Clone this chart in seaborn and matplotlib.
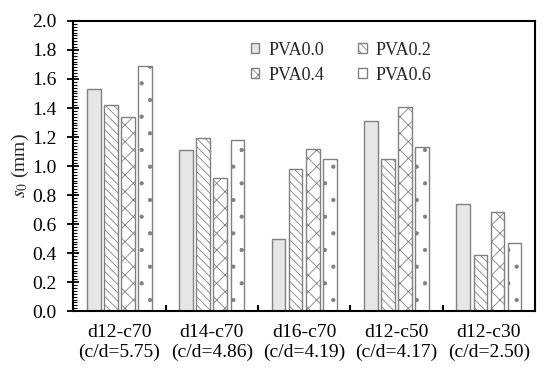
import matplotlib
matplotlib.use("Agg")
import matplotlib.pyplot as plt
import seaborn as sns
import pandas as pd
from matplotlib.ticker import MultipleLocator, FormatStrFormatter

# data
groups = ["d12-c70\n(c/d=5.75)", "d14-c70\n(c/d=4.86)", "d16-c70\n(c/d=4.19)",
          "d12-c50\n(c/d=4.17)", "d12-c30\n(c/d=2.50)"]
series = ["PVA0.0", "PVA0.2", "PVA0.4", "PVA0.6"]
pva00 = [1.53, 1.11, 0.50, 1.31, 0.74]
pva02 = [1.42, 1.19, 0.98, 1.05, 0.39]
pva04 = [1.34, 0.92, 1.12, 1.41, 0.68]
pva06 = [1.69, 1.18, 1.05, 1.13, 0.47]

df = pd.DataFrame({"group": groups * 4,
                   "series": [s for s in series for _ in groups],
                   "s0": pva00 + pva02 + pva04 + pva06})

sns.set_theme(style="white")
plt.rcParams["font.family"] = ["Liberation Serif", "DejaVu Serif"]
plt.rcParams["mathtext.fontset"] = "stix"
plt.rcParams["hatch.linewidth"] = 0.6
plt.rcParams["hatch.color"] = "#555555"

fig = plt.figure(figsize=(5.5, 3.74), dpi=100)
ax = fig.add_axes([0.133, 0.168, 0.84, 0.776])

fills = ["#e6e6e6", "white", "white", "white"]
hatches = ["", "\\\\\\\\", "xx", "."]
sns.barplot(data=df, x="group", y="s0", hue="series", hue_order=series,
            palette=fills, width=0.74, gap=0.2, ax=ax, saturation=1, legend=False)

for cont, h in zip(ax.containers, hatches):
    for bar in cont:
        bar.set_hatch(h)
        bar.set_edgecolor("#808080")
        bar.set_linewidth(1.0)

ax.set_xlim(-0.5, 4.5)
ax.set_ylim(0, 2.0)
ax.yaxis.set_major_locator(MultipleLocator(0.2))
ax.yaxis.set_minor_locator(MultipleLocator(0.02))
ax.yaxis.set_major_formatter(FormatStrFormatter("%.1f"))
ax.tick_params(axis="y", which="major", direction="inout", length=8, width=1.3,
               left=True, labelsize=14, colors="black", pad=8)
ax.tick_params(axis="y", which="minor", direction="in", length=3, width=0.8,
               left=True, colors="black")
ax.set_xticks(range(len(groups)))
ax.set_xticklabels(groups)
ax.xaxis.set_minor_locator(MultipleLocator(1.0, offset=0.5))
ax.tick_params(axis="x", which="major", length=0, labelsize=14, pad=9, colors="black")
ax.tick_params(axis="x", which="minor", direction="in", length=4, width=1.5,
               bottom=True, colors="black")

for sp in ax.spines.values():
    sp.set_visible(True)
    sp.set_color("black")
    sp.set_linewidth(1.5)

ax.set_xlabel("")
ax.set_ylabel(r"$s_0$ (mm)", fontsize=14, labelpad=1)

order = [0, 2, 1, 3]
handles = [ax.containers[i] for i in order]
labels = [series[i] for i in order]
ax.legend(handles, labels, ncol=2, loc="upper left", bbox_to_anchor=(0.35, 0.985),
          frameon=False, fontsize=13, handlelength=0.45, handleheight=0.45,
          columnspacing=1.9, handletextpad=0.5, labelspacing=0.45)

fig.savefig("out.png", dpi=100)
